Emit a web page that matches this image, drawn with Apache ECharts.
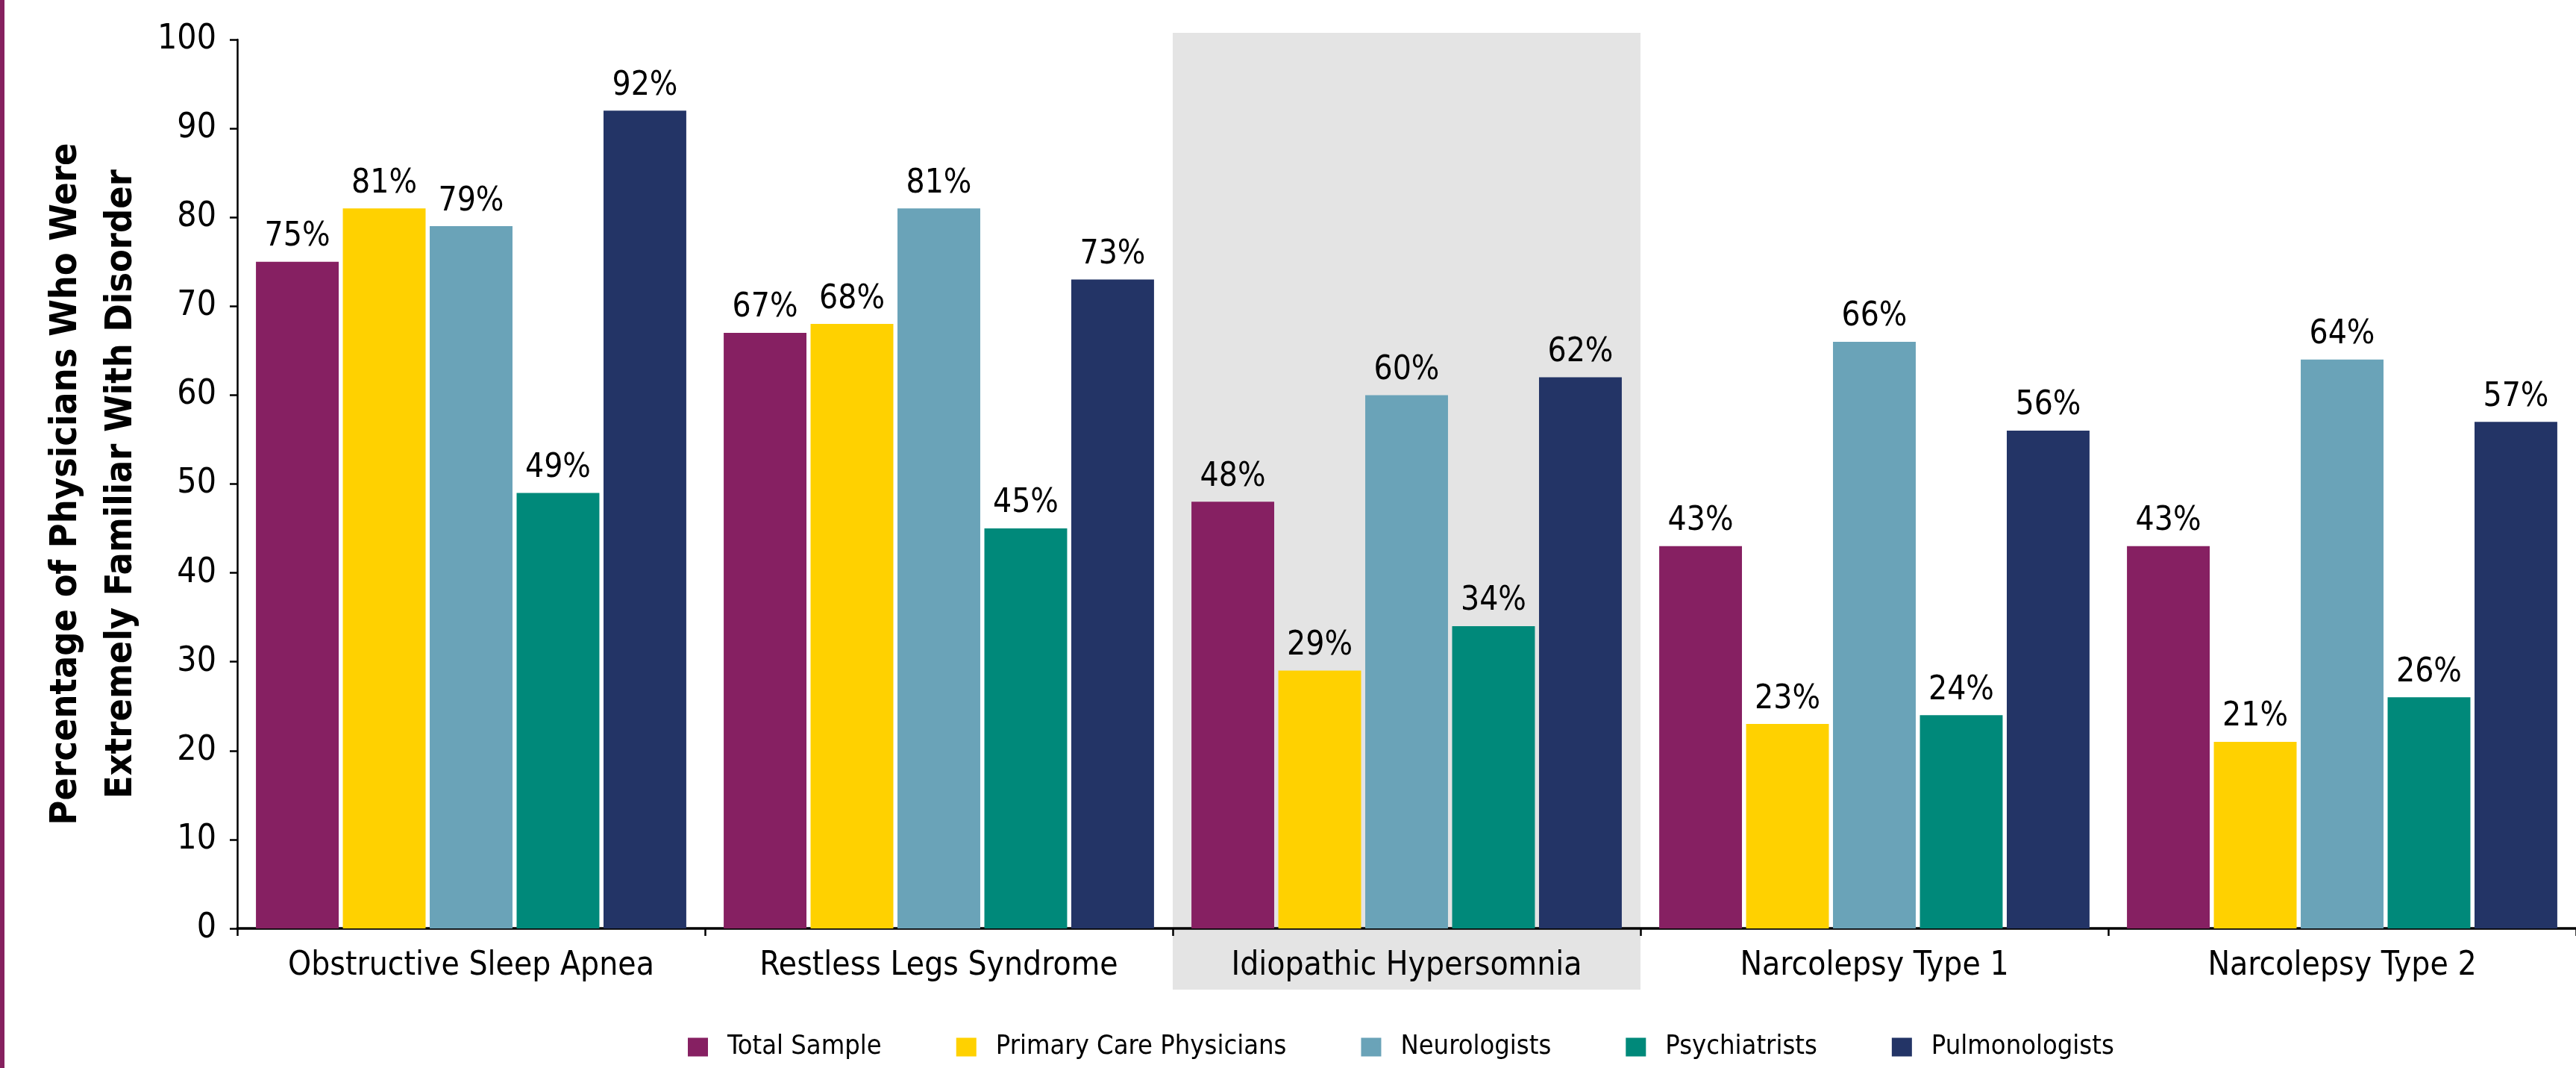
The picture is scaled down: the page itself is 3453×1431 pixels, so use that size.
<!DOCTYPE html>
<html>
<head>
<meta charset="utf-8">
<script src="https://cdn.jsdelivr.net/npm/echarts@6/dist/echarts.min.js"></script>
<style>
  html, body { margin: 0; padding: 0; background: #ffffff; }
  #chart { width: 3453px; height: 1431px; }
</style>
</head>
<body>
<div id="chart"></div>
<script>
// Familiarity with sleep disorders, by physician group (percent)
const categories = [
  'Obstructive Sleep Apnea',
  'Restless Legs Syndrome',
  'Idiopathic Hypersomnia',
  'Narcolepsy Type 1',
  'Narcolepsy Type 2'
];
const groupNames = ['Total Sample', 'Primary Care Physicians', 'Neurologists', 'Psychiatrists', 'Pulmonologists'];
const totalSample    = [75, 67, 48, 43, 43];
const primaryCare    = [81, 68, 29, 23, 21];
const neurologists   = [79, 81, 60, 66, 64];
const psychiatrists  = [49, 45, 34, 24, 26];
const pulmonologists = [92, 73, 62, 56, 57];
const highlighted = 'Idiopathic Hypersomnia';

const FONT = '"Liberation Sans Narrow", "DejaVu Sans Condensed", "Liberation Sans", sans-serif';
const colors = ['#862062', '#FFD100', '#6AA3B8', '#00897A', '#233466'];
const seriesValues = [totalSample, primaryCare, neurologists, psychiatrists, pulmonologists];

const chart = echarts.init(document.getElementById('chart'), null, { renderer: 'canvas' });

const option = {
  animation: false,
  backgroundColor: '#ffffff',
  textStyle: { fontFamily: FONT },
  grid: { left: 318, right: 0, top: 53, bottom: 187, containLabel: false },
  legend: {
    data: groupNames,
    left: 917,
    top: 1380,
    icon: 'rect',
    itemWidth: 27,
    itemHeight: 25,
    itemGap: 100,
    textStyle: { fontFamily: FONT, fontSize: 36, color: '#000', padding: [0, 0, 0, 21] }
  },
  xAxis: {
    type: 'category',
    data: categories,
    axisLine: { lineStyle: { color: '#000', width: 3.5 } },
    axisTick: { show: true, alignWithLabel: false, length: 10, lineStyle: { color: '#000', width: 2.5 } },
    axisLabel: { color: '#000', fontFamily: FONT, fontSize: 44, margin: 29, interval: 0 }
  },
  yAxis: {
    type: 'value',
    min: 0,
    max: 100,
    interval: 10,
    name: 'Percentage of Physicians Who Were\nExtremely Familiar With Disorder',
    nameLocation: 'middle',
    nameGap: 112,
    nameTextStyle: { color: '#000', fontFamily: FONT, fontSize: 50, fontWeight: 'bold', lineHeight: 74 },
    axisLine: { show: true, lineStyle: { color: '#000', width: 2.5 } },
    axisTick: { show: true, length: 10, lineStyle: { color: '#000', width: 2.5 } },
    axisLabel: { color: '#000', fontFamily: FONT, fontSize: 46, margin: 28 },
    splitLine: { show: false }
  },
  series: groupNames.map((name, i) => ({
    name: name,
    type: 'bar',
    data: seriesValues[i],
    barCategoryGap: '8%',
    barGap: '5%',
    itemStyle: { color: colors[i] },
    label: {
      show: true,
      position: 'top',
      distance: 11,
      formatter: '{c}%',
      color: '#000',
      fontFamily: FONT,
      fontSize: 44
    }
  }))
};
chart.setOption(option);

// Shaded band behind the highlighted disorder, plus the accent stripe on the left edge
function drawDecorations() {
  const idx = categories.indexOf(highlighted);
  const cx = chart.convertToPixel({ xAxisIndex: 0 }, categories[idx]);
  const nx = chart.convertToPixel({ xAxisIndex: 0 }, categories[idx + 1]);
  const band = nx - cx;
  const yTop = chart.convertToPixel({ yAxisIndex: 0 }, 100) - 9;
  const yBottom = chart.convertToPixel({ yAxisIndex: 0 }, 0) + 82;
  chart.setOption({
    graphic: [
      {
        type: 'rect',
        z: -10,
        silent: true,
        shape: { x: cx - band / 2, y: yTop, width: band, height: yBottom - yTop },
        style: { fill: '#E4E4E4' }
      },
      {
        type: 'rect',
        z: 100,
        silent: true,
        shape: { x: 0, y: 0, width: 6, height: chart.getHeight() },
        style: { fill: '#86215F' }
      }
    ]
  });
}
drawDecorations();
</script>
</body>
</html>
